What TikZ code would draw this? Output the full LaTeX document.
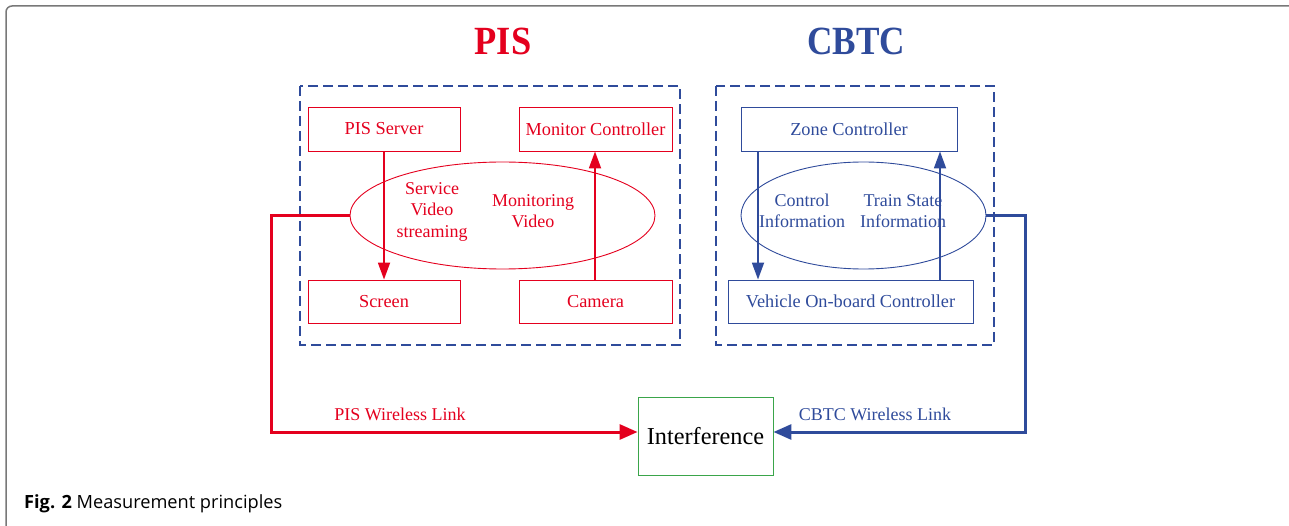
\documentclass[tikz,border=0pt]{standalone}
\usepackage{fontspec}
\setmainfont{Liberation Serif}
\newfontfamily\capfont{Open Sans}
\usetikzlibrary{arrows.meta,shapes.geometric}
\definecolor{pisred}{RGB}{228,0,30}
\definecolor{cbtcblue}{RGB}{47,75,155}
\definecolor{intgreen}{RGB}{58,165,74}
\definecolor{framegray}{RGB}{120,120,120}
\tikzset{
  pisbox/.style={draw=pisred,line width=0.9pt,text=pisred,font=\fontsize{18.3}{21}\selectfont,inner sep=0pt},
  cbtcbox/.style={draw=cbtcblue,line width=0.9pt,text=cbtcblue,font=\fontsize{18.3}{21}\selectfont,inner sep=0pt},
  groupbox/.style={draw=cbtcblue,line width=1.8pt,dash pattern=on 10pt off 5pt},
  flowarrow/.style={line width=1.8pt,-{Triangle[length=17pt,width=12pt]}},
  linkarrow/.style={line width=3pt,-{Triangle[length=18pt,width=15pt]}},
  lbl/.style={font=\fontsize{18}{21.5}\selectfont,align=center,inner sep=0pt},
}
\begin{document}
\begin{tikzpicture}[x=1pt,y=-1pt]
\useasboundingbox (0,0) rectangle (1289,526);
% figure frame
\draw[framegray,line width=1.5pt,rounded corners=6pt] (6,527) -- (6,6) -- (1292,6);

% titles
\node[text=pisred,font=\fontsize{40}{44}\selectfont\bfseries,xscale=0.91] (tpis) at (503,41) {PIS};
\node[text=cbtcblue,font=\fontsize{40}{44}\selectfont\bfseries,xscale=0.88] (tcbtc) at (856,41) {CBTC};

% group frames
\draw[groupbox] (300,86) rectangle (680,345);
\draw[groupbox] (716,86) rectangle (994,345);

% PIS blocks
\node[pisbox,minimum width=152pt,minimum height=44pt] (server) at (384,129) {PIS Server};
\node[pisbox,minimum width=153pt,minimum height=44pt] (monitor) at (595.5,129) {Monitor Controller};
\node[pisbox,minimum width=152pt,minimum height=43pt] (screen) at (384,301.5) {Screen};
\node[pisbox,minimum width=153pt,minimum height=43pt] (camera) at (595.5,301.5) {Camera};
\node[draw=pisred,line width=0.9pt,ellipse,minimum width=305pt,minimum height=107pt,inner sep=0pt] (pisell) at (502.5,215.5) {};
\node[lbl,text=pisred] (svc) at (432,211.5) {Service\\Video\\streaming};
\node[lbl,text=pisred] (mon) at (533,211) {Monitoring\\Video};
\draw[pisred,flowarrow] (server.south -| 384,0) -- (screen.north -| 384,0);
\draw[pisred,flowarrow] (camera.north -| 595,0) -- (monitor.south -| 595,0);

% CBTC blocks
\node[cbtcbox,minimum width=216pt,minimum height=44pt] (zone) at (849,129) {Zone Controller};
\node[cbtcbox,minimum width=245pt,minimum height=43pt] (vobc) at (850.5,301.5) {Vehicle On-board Controller};
\node[draw=cbtcblue,line width=0.9pt,ellipse,minimum width=245pt,minimum height=107pt,inner sep=0pt] (cbtcell) at (863.5,215.5) {};
\node[lbl,text=cbtcblue] (ctl) at (802,211) {Control\\Information};
\node[lbl,text=cbtcblue] (tsi) at (903,211) {Train State\\Information};
\draw[cbtcblue,flowarrow] (zone.south -| 758,0) -- (vobc.north -| 758,0);
\draw[cbtcblue,flowarrow] (vobc.north -| 940,0) -- (zone.south -| 940,0);

% interference and wireless links
\node[draw=intgreen,line width=0.9pt,minimum width=135pt,minimum height=78pt,inner sep=0pt,font=\fontsize{24.3}{28}\selectfont] (intf) at (705.5,436) {Interference};
\coordinate (pl1) at (271,215.5);
\coordinate (pl2) at (271,432);
\coordinate (cl1) at (1025,215.5);
\coordinate (cl2) at (1025,432);
\draw[pisred,linkarrow] (pisell.west) -- (pl1) -- (pl2) -- (intf.west |- pl2);
\draw[cbtcblue,linkarrow] (cbtcell.east) -- (cl1) -- (cl2) -- (intf.east |- cl2);
\node[lbl,text=pisred] (pislink) at (400,414) {PIS Wireless Link};
\node[lbl,text=cbtcblue] (cbtclink) at (875,414) {CBTC Wireless Link};

% caption
\node[anchor=base west,inner sep=0pt,font=\capfont\fontsize{18.2}{21}\selectfont] (cap) at (24,508) {\textbf{Fig. 2} Measurement principles};
\end{tikzpicture}
\end{document}
